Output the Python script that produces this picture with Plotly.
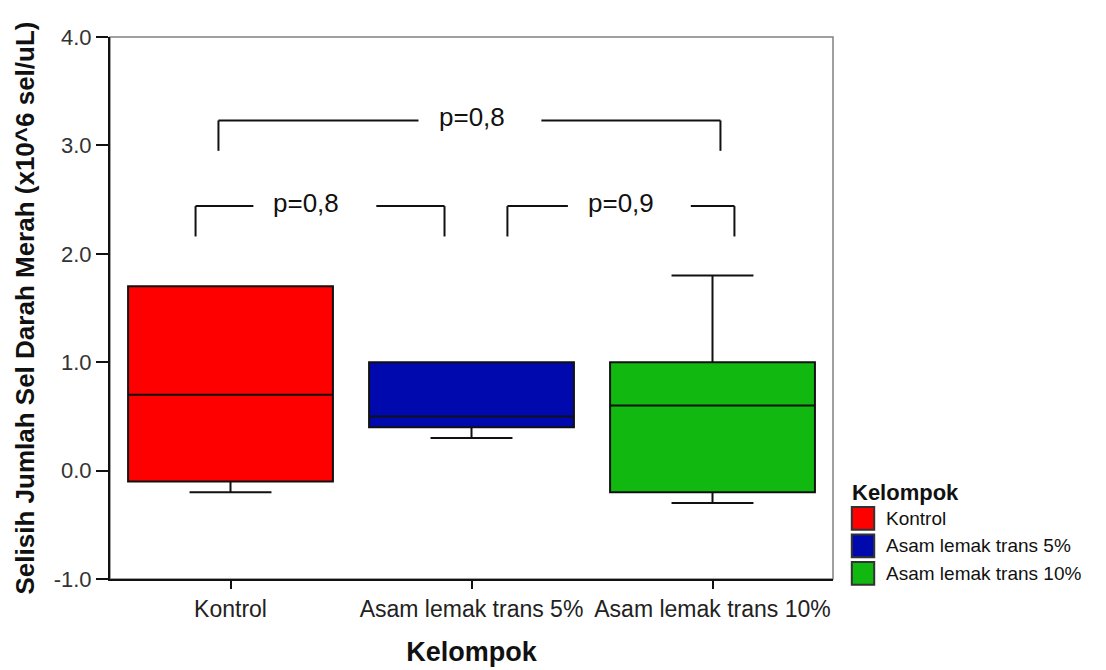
import plotly.graph_objects as go

# Groups and box statistics (x10^6 sel/uL)
groups = ["Kontrol", "Asam lemak trans 5%", "Asam lemak trans 10%"]
colors = ["#FF0000", "#0009AD", "#10B810"]
q1 = [-0.1, 0.4, -0.2]
median = [0.7, 0.5, 0.6]
q3 = [1.7, 1.0, 1.0]
lower_fence = [-0.2, 0.3, -0.3]
upper_fence = [1.7, 1.0, 1.8]

# Significance brackets (x in group index units, y in data units)
bracket_left = [-0.05, -0.145, 1.149]
bracket_right = [2.033, 0.888, 2.091]
bracket_center = [1.0, 0.315, 1.62]
bracket_top = [3.23, 2.44, 2.44]
bracket_foot = [2.95, 2.16, 2.16]
p_labels = ["p=0,8", "p=0,8", "p=0,9"]

y_ticks = [-1.0, 0.0, 1.0, 2.0, 3.0, 4.0]
y_tick_labels = ["-1.0", "0.0", "1.0", "2.0", "3.0", "4.0"]

FONT = "Liberation Sans, Arial, sans-serif"

fig = go.Figure()
for i, name in enumerate(groups):
    fig.add_trace(go.Box(
        x=[i], q1=[q1[i]], median=[median[i]], q3=[q3[i]],
        lowerfence=[lower_fence[i]], upperfence=[upper_fence[i]],
        name=name, fillcolor=colors[i], width=0.85, whiskerwidth=0.4,
        line=dict(color="#111111", width=2), showlegend=False,
        hoverinfo="skip",
    ))

shapes = [dict(type="rect", xref="paper", yref="paper", x0=0, x1=1, y0=0, y1=1,
               line=dict(color="#808080", width=1.5), layer="below")]
annotations = []
gap_lo, gap_hi = 0.22, 0.29
for xl, xr, xc, yt, yf, lab in zip(bracket_left, bracket_right, bracket_center,
                                   bracket_top, bracket_foot, p_labels):
    line = dict(color="#111111", width=2)
    shapes += [
        dict(type="line", x0=xl, x1=xl, y0=yf, y1=yt, line=line),
        dict(type="line", x0=xl, x1=xc - gap_lo, y0=yt, y1=yt, line=line),
        dict(type="line", x0=xc + gap_hi, x1=xr, y0=yt, y1=yt, line=line),
        dict(type="line", x0=xr, x1=xr, y0=yf, y1=yt, line=line),
    ]
    annotations.append(dict(x=xc, y=yt, text=lab, showarrow=False, yshift=3,
                            xanchor="center", yanchor="middle",
                            font=dict(family=FONT, size=26, color="#111111")))

# Legend drawn in paper coordinates to the right of the plot
annotations.append(dict(xref="paper", yref="paper", x=1.023, y=0.159,
                        text="<b>Kelompok</b>", showarrow=False,
                        xanchor="left", yanchor="middle",
                        font=dict(family=FONT, size=22, color="#111111")))
row_h = 27.5 / 542
for i, name in enumerate(groups):
    yc = 0.112 - i * row_h
    shapes.append(dict(type="rect", xref="paper", yref="paper",
                       x0=1.026, x1=1.057, y0=yc - 0.021, y1=yc + 0.021,
                       fillcolor=colors[i], line=dict(color="#333333", width=2)))
    annotations.append(dict(xref="paper", yref="paper", x=1.070, y=yc,
                            text=name, showarrow=False,
                            xanchor="left", yanchor="middle",
                            font=dict(family=FONT, size=19, color="#111111")))

fig.update_layout(
    width=1106, height=670,
    margin=dict(l=110, r=273, t=37, b=91),
    paper_bgcolor="white", plot_bgcolor="white",
    shapes=shapes, annotations=annotations,
    showlegend=False,
    font=dict(family=FONT, color="#222222"),
)
fig.update_xaxes(
    range=[-0.5, 2.5], tickvals=[0, 1, 2], ticktext=groups, automargin=False,
    showline=True, linecolor="#111111", linewidth=2,
    ticks="outside", ticklen=8, tickwidth=2, tickcolor="#111111",
    showgrid=False, zeroline=False,
    tickfont=dict(family=FONT, size=23, color="#222222"),
    title=dict(text="<b>Kelompok</b>", standoff=22,
               font=dict(family=FONT, size=27, color="#111111")),
)
fig.update_yaxes(
    range=[-1.0, 4.0], tickvals=y_ticks, ticktext=y_tick_labels, automargin=False,
    showline=True, linecolor="#111111", linewidth=2,
    ticks="outside", ticklen=12, tickwidth=2, tickcolor="#111111",
    showgrid=False, zeroline=False,
    tickfont=dict(family=FONT, size=22, color="#333333"),
    title=dict(text="<b>Selisih Jumlah Sel Darah Merah (x10^6 sel/uL)</b>", standoff=12,
               font=dict(family=FONT, size=26, color="#111111")),
)

fig.write_html("out.html")
